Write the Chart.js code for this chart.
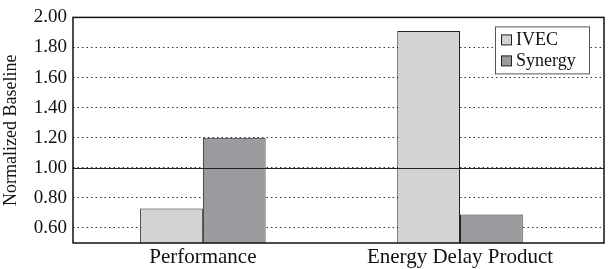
<!DOCTYPE html>
<html>
<head>
<meta charset="utf-8">
<script src="https://cdn.jsdelivr.net/npm/chart.js@4"></script>
<style>
	body { margin: 0; background: #fff; }
	#wrap { width: 610px; height: 269px; }
</style>
</head>
<body>
<div id="wrap"><canvas id="chart" width="610" height="269"></canvas></div>
<script>
// Data
const categories = ["Performance", "Energy Delay Product"];
const ivec = [0.73, 1.91];
const synergy = [1.20, 0.69];
const tickValues = [0.6, 0.8, 1.0, 1.2, 1.4, 1.6, 1.8, 2.0];
const tickLabels = ["0.60", "0.80", "1.00", "1.20", "1.40", "1.60", "1.80", "2.00"];

const serif = "'Liberation Serif', 'DejaVu Serif', serif";

// Frame, solid 1.00 line and boxed legend
const framePlugin = {
	id: "frame",
	afterDatasetsDraw(chart) {
		const { ctx, chartArea: a, scales } = chart;
		ctx.save();
		// solid baseline at 1.00
		const y1 = scales.y.getPixelForValue(1.0);
		ctx.strokeStyle = "#222";
		ctx.lineWidth = 1;
		ctx.beginPath();
		ctx.moveTo(a.left, Math.round(y1) + 0.5);
		ctx.lineTo(a.right, Math.round(y1) + 0.5);
		ctx.stroke();
		// box
		ctx.strokeStyle = "#111";
		ctx.lineWidth = 1.5;
		ctx.strokeRect(a.left, a.top, a.right - a.left, a.bottom - a.top);

		// legend
		const bx = a.right - 109, by = a.top + 9, bw = 94, bh = 47;
		ctx.fillStyle = "#fff";
		ctx.fillRect(bx, by, bw, bh);
		ctx.strokeStyle = "#555";
		ctx.lineWidth = 1;
		ctx.strokeRect(bx + 0.5, by + 0.5, bw, bh);
		ctx.font = "18px " + serif;
		ctx.textBaseline = "middle";
		chart.data.datasets.forEach((ds, i) => {
			const yy = by + 13 + i * 21;
			ctx.fillStyle = ds.backgroundColor;
			ctx.fillRect(bx + 6.5, yy - 4.5, 10, 10);
			ctx.strokeStyle = "#222";
			ctx.strokeRect(bx + 6.5, yy - 4.5, 10, 10);
			ctx.fillStyle = "#111";
			ctx.fillText(ds.label, bx + 21, yy + 1);
		});
		ctx.restore();
	}
};

new Chart(document.getElementById("chart"), {
	type: "bar",
	data: {
		datasets: [
			{
				label: "IVEC",
				data: ivec.map((v, i) => ({ x: i, y: v })),
				backgroundColor: "#d3d3d3",
				borderColor: "#222",
				borderWidth: 1,
				borderSkipped: "bottom",
				barPercentage: 1,
				categoryPercentage: 0.488,
			},
			{
				label: "Synergy",
				data: synergy.map((v, i) => ({ x: i, y: v })),
				backgroundColor: "#9b9b9f",
				borderColor: "#222",
				borderWidth: 1,
				borderSkipped: "bottom",
				barPercentage: 1,
				categoryPercentage: 0.488,
			},
		],
	},
	options: {
		responsive: false,
		animation: false,
		layout: { padding: { top: 13, right: 6, left: 0, bottom: 0 } },
		plugins: {
			legend: { display: false },
			tooltip: { enabled: false },
		},
		scales: {
			x: {
				type: "linear",
				min: -0.505,
				max: 1.56,
				offset: false,
				afterBuildTicks: (scale) => {
					scale.ticks = categories.map((c, i) => ({ value: i }));
				},
				grid: { display: false, drawTicks: false },
				border: { display: false },
				ticks: {
					color: "#111",
					font: { family: serif, size: 21, lineHeight: 1 },
					padding: 4,
					maxRotation: 0,
					autoSkip: false,
					callback: (v, i) => categories[i],
				},
				afterFit: (scale) => { scale.height = 26; },
			},
			y: {
				min: 0.5,
				max: 2.0,
				afterBuildTicks: (scale) => {
					scale.ticks = tickValues.map((v) => ({ value: v }));
				},
				ticks: {
					color: "#111",
					font: { family: serif, size: 19 },
					padding: 6,
					callback: (v, i) => tickLabels[i],
				},
				grid: {
					color: "#333",
					lineWidth: 1,
					drawTicks: false,
				},
				border: { display: false, dash: [1.5, 3] },
				title: {
					display: true,
					text: "Normalized Baseline",
					color: "#111",
					font: { family: serif, size: 18 },
					padding: { top: 0, bottom: 0 },
				},
				afterFit: (scale) => { scale.width = 73; },
			},
		},
	},
	plugins: [framePlugin],
});
</script>
</body>
</html>
